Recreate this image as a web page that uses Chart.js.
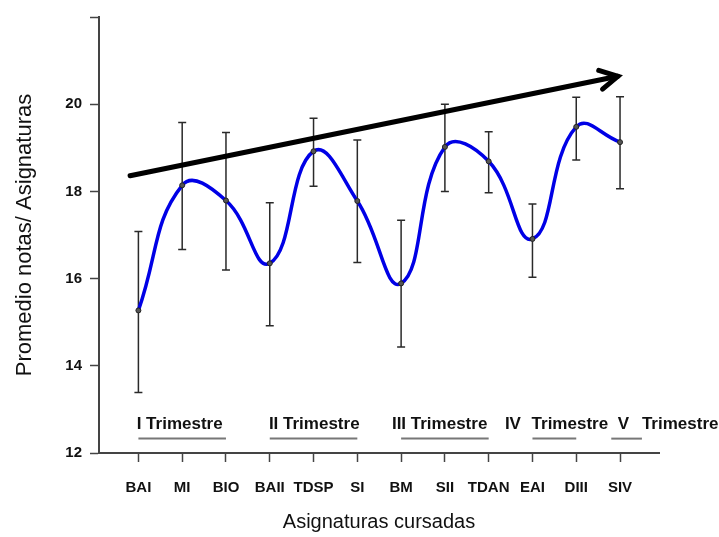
<!DOCTYPE html>
<html>
<head>
<meta charset="utf-8">
<script src="https://cdn.jsdelivr.net/npm/chart.js@4.4.1/dist/chart.umd.min.js"></script>
<style>
  html, body { margin: 0; padding: 0; background: #fff; }
  #chart { display: block; }
</style>
</head>
<body>
<canvas id="chart" width="719" height="537"></canvas>
<script>
// asignaturas cursadas (x axis)
const subjects = ['BAI', 'MI', 'BIO', 'BAII', 'TDSP', 'SI', 'BM', 'SII', 'TDAN', 'EAI', 'DIII', 'SIV'];
// promedio de notas and error bar ends
const means = [15.27, 18.14, 17.79, 16.35, 18.92, 17.78, 15.89, 19.02, 18.69, 16.91, 19.48, 19.13];
const errHigh = [17.08, 19.58, 19.35, 17.74, 19.68, 19.18, 17.34, 20.0, 19.37, 17.71, 20.16, 20.17];
const errLow = [13.39, 16.67, 16.2, 14.92, 18.12, 16.37, 14.43, 18.0, 17.97, 16.03, 18.72, 18.06];
const yTicks = [12, 14, 16, 18, 20, 22];
// trend arrow (x in subject index units)
const trendX = [-0.19, 10.95];
const trendY = [18.36, 20.64];
// trimestres and the subjects they span
const trimNames = ['I', 'II', 'III', 'IV', 'V'];
const trimFrom = [0, 3, 6, 9, 10.8];
const trimTo = [2, 5, 8, 10, 11.5];

const FONT = 'Liberation Sans, Arial, sans-serif';

// where the trimestre words sit (index units)
const romanAt = [-0.04, 2.98, 5.79, 8.37, 10.95];
const wordAt = [null, null, null, 8.98, 11.5];

const errorBars = {
  id: 'errorBars',
  beforeDatasetsDraw(chart) {
    const {ctx, scales: {x, y}} = chart;
    ctx.save();
    ctx.strokeStyle = '#2a2a2a';
    ctx.lineWidth = 1.5;
    subjects.forEach((s, i) => {
      const px = x.getPixelForValue(i);
      const top = y.getPixelForValue(errHigh[i]);
      const bot = y.getPixelForValue(errLow[i]);
      ctx.beginPath();
      ctx.moveTo(px, top); ctx.lineTo(px, bot);
      ctx.moveTo(px - 4, top); ctx.lineTo(px + 4, top);
      ctx.moveTo(px - 4, bot); ctx.lineTo(px + 4, bot);
      ctx.stroke();
    });
    ctx.restore();
  }
};

const arrowHead = {
  id: 'arrowHead',
  afterDatasetsDraw(chart) {
    const {ctx, scales: {x, y}} = chart;
    const x0 = x.getPixelForValue(trendX[0]), y0 = y.getPixelForValue(trendY[0]);
    const x1 = x.getPixelForValue(trendX[1]), y1 = y.getPixelForValue(trendY[1]);
    const ang = Math.atan2(y1 - y0, x1 - x0);
    const len = 20, spread = Math.PI / 6.3;
    ctx.save();
    ctx.strokeStyle = '#000';
    ctx.lineWidth = 5;
    ctx.lineCap = 'round';
    ctx.beginPath();
    ctx.moveTo(x1 - len * Math.cos(ang - spread), y1 - len * Math.sin(ang - spread));
    ctx.lineTo(x1, y1);
    ctx.lineTo(x1 - len * Math.cos(ang + spread), y1 - len * Math.sin(ang + spread));
    ctx.stroke();
    ctx.restore();
  }
};

const trimestres = {
  id: 'trimestres',
  afterDraw(chart) {
    const {ctx, scales: {x, y}} = chart;
    const ty = y.getPixelForValue(12.66);
    const ly = y.getPixelForValue(12.33);
    ctx.save();
    ctx.font = 'bold 17px ' + FONT;
    ctx.fillStyle = '#111';
    ctx.textBaseline = 'middle';
    ctx.textAlign = 'left';
    trimNames.forEach((n, i) => {
      if (wordAt[i] === null) {
        ctx.fillText(n + ' Trimestre', x.getPixelForValue(romanAt[i]), ty);
      } else {
        ctx.fillText(n, x.getPixelForValue(romanAt[i]), ty);
        ctx.fillText('Trimestre', x.getPixelForValue(wordAt[i]), ty);
      }
      ctx.strokeStyle = '#777';
      ctx.lineWidth = 2;
      ctx.beginPath();
      ctx.moveTo(x.getPixelForValue(trimFrom[i]), ly);
      ctx.lineTo(x.getPixelForValue(trimTo[i]), ly);
      ctx.stroke();
    });
    ctx.restore();
  }
};

const chart = new Chart(document.getElementById('chart'), {
  type: 'line',
  data: {
    datasets: [
      {
        label: 'Tendencia',
        data: trendX.map((v, i) => ({x: v, y: trendY[i]})),
        borderColor: '#000',
        borderWidth: 5,
        pointRadius: 0,
        borderCapStyle: 'round',
        order: 0
      },
      {
        label: 'Promedio',
        data: means.map((m, i) => ({x: i, y: m})),
        borderColor: '#0000e6',
        borderWidth: 3.5,
        tension: 0.45,
        pointRadius: 2.5,
        pointBackgroundColor: '#555',
        pointBorderColor: '#222',
        pointBorderWidth: 1,
        order: 1
      }
    ]
  },
  options: {
    responsive: false,
    animation: false,
    devicePixelRatio: 1,
    layout: {padding: {top: 13, right: 60, left: 0, bottom: 0}},
    plugins: {legend: {display: false}, tooltip: {enabled: false}},
    scales: {
      x: {
        type: 'linear',
        min: -0.9,
        max: 11.89,
        afterBuildTicks: s => { s.ticks = subjects.map((n, i) => ({value: i})); },
        afterFit: s => { s.height = 84; },
        grid: {drawOnChartArea: false, drawTicks: true, tickLength: 9, color: '#444', tickWidth: 1.5},
        border: {color: '#444', width: 2},
        ticks: {
          autoSkip: false,
          maxRotation: 0,
          padding: 17,
          color: '#111',
          font: {family: FONT, size: 15, weight: 'bold'},
          callback: v => subjects[v]
        },
        title: {
          display: true,
          text: 'Asignaturas cursadas',
          color: '#111',
          font: {family: FONT, size: 20},
          padding: {top: 0, bottom: 3}
        }
      },
      y: {
        min: 12,
        max: 22,
        afterBuildTicks: s => { s.ticks = yTicks.map(v => ({value: v})); },
        afterFit: s => { s.width = 99; },
        grid: {drawOnChartArea: false, drawTicks: true, tickLength: 9, color: '#444', tickWidth: 1.5},
        border: {color: '#444', width: 2},
        ticks: {
          padding: 8,
          color: '#111',
          font: {family: FONT, size: 15, weight: 'bold'},
          callback: v => (v === 22 ? '' : v)
        },
        title: {
          display: true,
          text: 'Promedio notas/ Asignaturas',
          color: '#111',
          font: {family: FONT, size: 22},
          padding: {top: 12, bottom: 0}
        }
      }
    }
  },
  plugins: [errorBars, arrowHead, trimestres]
});
</script>
</body>
</html>
